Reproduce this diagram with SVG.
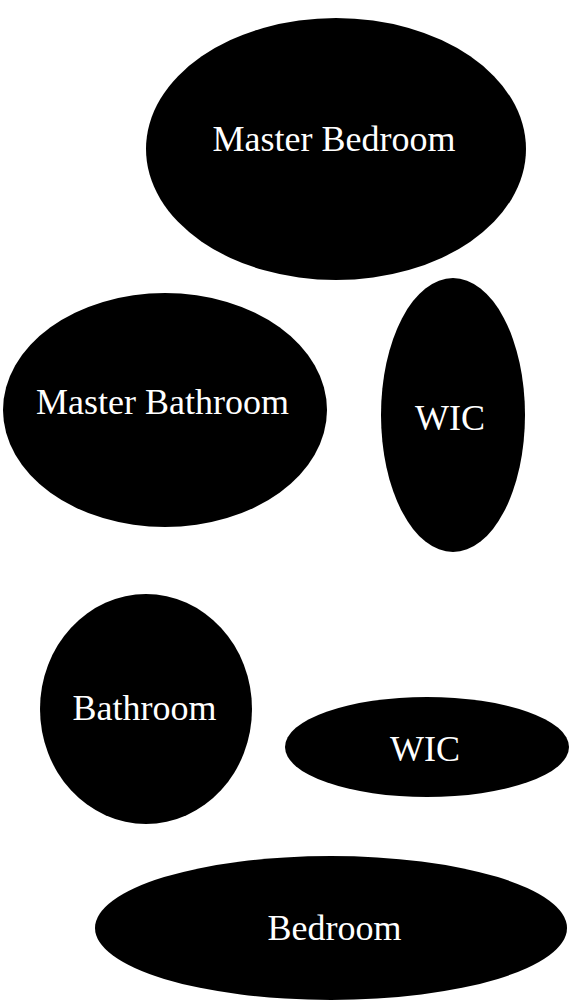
<svg xmlns="http://www.w3.org/2000/svg" width="571" height="1004" viewBox="0 0 571 1004">
<style>
.n{fill:#000}
.t{fill:#fff;font-family:"Liberation Serif",serif;font-size:36px;text-anchor:middle}
</style>
<rect width="571" height="1004" fill="#fff"/>
<g id="master-bedroom"><ellipse class="n" cx="336" cy="149" rx="190" ry="131"/><text class="t" x="334" y="151">Master Bedroom</text></g>
<g id="master-bathroom"><ellipse class="n" cx="165" cy="410" rx="162" ry="117"/><text class="t" x="162.5" y="414">Master Bathroom</text></g>
<g id="wic-1"><ellipse class="n" cx="453" cy="415" rx="72" ry="137"/><text class="t" x="450" y="430">WIC</text></g>
<g id="bathroom"><ellipse class="n" cx="146" cy="709" rx="106" ry="115"/><text class="t" x="144.5" y="720">Bathroom</text></g>
<g id="wic-2"><ellipse class="n" cx="427" cy="747" rx="142" ry="50"/><text class="t" x="425" y="761">WIC</text></g>
<g id="bedroom"><ellipse class="n" cx="331" cy="928" rx="236" ry="72"/><text class="t" x="334.5" y="940">Bedroom</text></g>
<g id="connectors"/>
</svg>
